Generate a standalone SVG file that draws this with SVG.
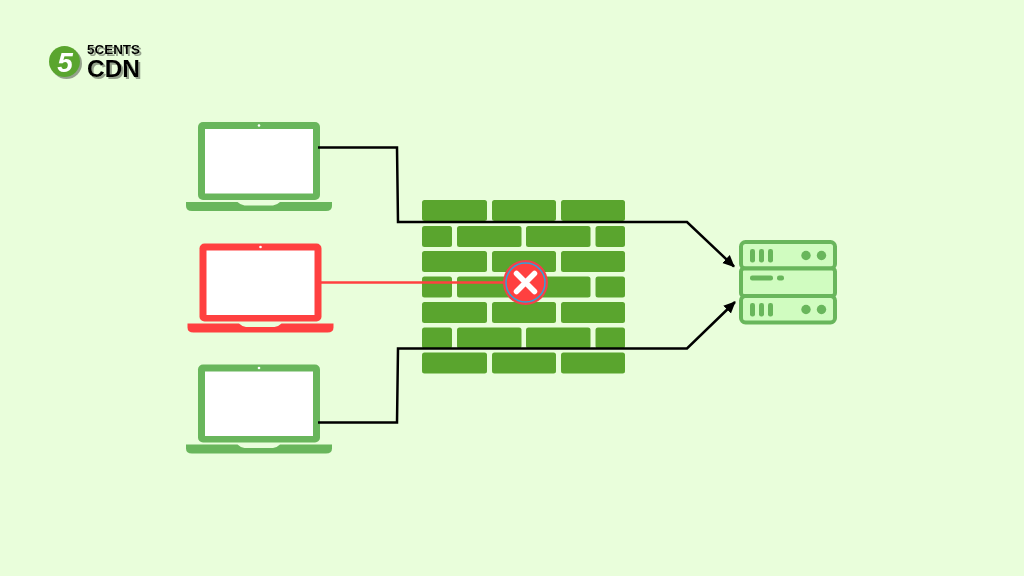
<svg xmlns="http://www.w3.org/2000/svg" xmlns:xlink="http://www.w3.org/1999/xlink" width="1024" height="576" viewBox="0 0 1024 576">
<style>
.brick{fill:#5aa52e}
.g{fill:#69b65c}
.r{fill:#ff4040}
.scr{fill:#fff}
.conn{fill:none;stroke:#000;stroke-width:2.5;stroke-linejoin:miter}
.srv{fill:#d0fcc0;stroke:#69b65c;stroke-width:4}
.sg{fill:#69b65c}
.logo{font-family:"Liberation Sans",Arial,sans-serif;font-weight:700}
</style>
<defs>
<filter id="shadow" x="-20%" y="-20%" width="140%" height="140%"><feDropShadow dx="2" dy="2" stdDeviation="0.600" flood-color="#7f8a78" flood-opacity="0.800"/></filter>
<marker id="arrow" markerUnits="userSpaceOnUse" markerWidth="14" markerHeight="14" refX="11" refY="6" orient="auto"><path d="M0 0.500L12 6L0 11.500Z" fill="#000"/></marker>
<g id="laptop">
<path d="M5 0h112a5 5 0 0 1 5 5v68a5 5 0 0 1-5 5H5a5 5 0 0 1-5-5V5a5 5 0 0 1 5-5Z"/>
<rect x="7" y="7" width="108" height="64.500" class="scr"/>
<circle cx="61" cy="3.500" r="1.300" class="scr"/>
<path d="M-12 80H39.500q3 3 7 3.500H75q4-.5 7-3.500H134V84q0 5-6 5H-6q-6 0-6-5Z"/>
</g>
</defs>
<rect width="1024" height="576" fill="#e9fedb"/>
<g id="logo" filter="url(#shadow)">
<circle cx="64.500" cy="61.500" r="15.500" fill="#5aa52e"/>
<text x="65" y="71.500" text-anchor="middle" font-size="28" font-style="italic" fill="#fff" class="logo">5</text>
<text x="87" y="53.500" font-size="12" fill="#000" class="logo" textLength="53" lengthAdjust="spacingAndGlyphs">5CENTS</text>
<text x="87" y="77" font-size="23" fill="#000" class="logo" textLength="53" lengthAdjust="spacingAndGlyphs">CDN</text>
</g>
<g id="laptop-top" class="g"><use xlink:href="#laptop" href="#laptop" x="198" y="122"/></g>
<g id="laptop-blocked" class="r"><use xlink:href="#laptop" href="#laptop" x="199.500" y="243.500"/></g>
<g id="laptop-bottom" class="g"><use xlink:href="#laptop" href="#laptop" x="198" y="364.500"/></g>
<g id="firewall" class="brick">
<rect x="422" y="200" width="65" height="21" rx="2.500"/><rect x="492" y="200" width="64" height="21" rx="2.500"/><rect x="561" y="200" width="64" height="21" rx="2.500"/>
<rect x="422" y="226" width="30" height="21" rx="2.500"/><rect x="457" y="226" width="64.500" height="21" rx="2.500"/><rect x="526" y="226" width="64.500" height="21" rx="2.500"/><rect x="595.500" y="226" width="29.500" height="21" rx="2.500"/>
<rect x="422" y="251" width="65" height="21" rx="2.500"/><rect x="492" y="251" width="64" height="21" rx="2.500"/><rect x="561" y="251" width="64" height="21" rx="2.500"/>
<rect x="422" y="276.500" width="30" height="21" rx="2.500"/><rect x="457" y="276.500" width="64.500" height="21" rx="2.500"/><rect x="526" y="276.500" width="64.500" height="21" rx="2.500"/><rect x="595.500" y="276.500" width="29.500" height="21" rx="2.500"/>
<rect x="422" y="302" width="65" height="21" rx="2.500"/><rect x="492" y="302" width="64" height="21" rx="2.500"/><rect x="561" y="302" width="64" height="21" rx="2.500"/>
<rect x="422" y="327.500" width="30" height="21" rx="2.500"/><rect x="457" y="327.500" width="64.500" height="21" rx="2.500"/><rect x="526" y="327.500" width="64.500" height="21" rx="2.500"/><rect x="595.500" y="327.500" width="29.500" height="21" rx="2.500"/>
<rect x="422" y="352.500" width="65" height="21" rx="2.500"/><rect x="492" y="352.500" width="64" height="21" rx="2.500"/><rect x="561" y="352.500" width="64" height="21" rx="2.500"/>
</g>
<g id="connectors">
<path class="conn" d="M318 147.500H397L398 222H687L734 266.500" marker-end="url(#arrow)"/>
<path class="conn" d="M318 422.500H397L398 348.500H687L735 302" marker-end="url(#arrow)"/>
<path d="M321 282.500H505" fill="none" stroke="#ff4040" stroke-width="2.500"/>
</g>
<g id="blocked-mark">
<circle cx="525.500" cy="282.500" r="22.500" fill="#f5404a"/>
<circle cx="525.500" cy="282.500" r="19.500" fill="#ff4040" stroke="#2fa4d8" stroke-width="1.500"/>
<path d="M516.500 273.500L534.500 291.500M534.500 273.500L516.500 291.500" stroke="#fff" stroke-width="5.500" stroke-linecap="round" fill="none"/>
</g>
<g id="server">
<rect x="741" y="242" width="94" height="26.500" rx="4.500" class="srv"/>
<rect x="741" y="268.500" width="94" height="27.500" rx="3" class="srv"/>
<rect x="741" y="296" width="94" height="26.500" rx="4.500" class="srv"/>
<g class="sg">
<rect x="750" y="249" width="5" height="13.500" rx="2.200"/><rect x="759" y="249" width="5" height="13.500" rx="2.200"/><rect x="768" y="249" width="5" height="13.500" rx="2.200"/>
<circle cx="806" cy="255.500" r="4.700"/><circle cx="821.500" cy="255.500" r="4.700"/>
<rect x="750" y="275.500" width="23" height="5" rx="2.200"/><rect x="777" y="275.500" width="7" height="5" rx="2.200"/>
<rect x="750" y="303" width="5" height="13.500" rx="2.200"/><rect x="759" y="303" width="5" height="13.500" rx="2.200"/><rect x="768" y="303" width="5" height="13.500" rx="2.200"/>
<circle cx="806" cy="309.500" r="4.700"/><circle cx="821.500" cy="309.500" r="4.700"/>
</g>
</g>
</svg>
